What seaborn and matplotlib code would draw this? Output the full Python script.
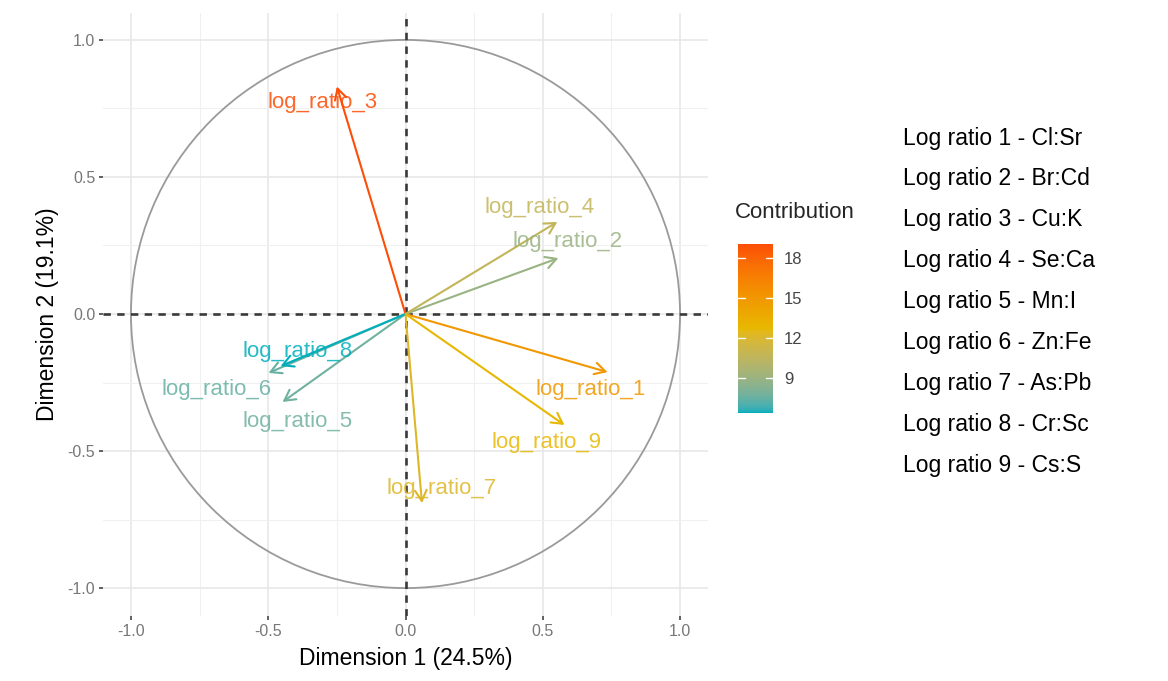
import numpy as np
import matplotlib
matplotlib.use("Agg")
import matplotlib.pyplot as plt
from matplotlib.patches import Circle
from matplotlib.colors import Normalize, ListedColormap, to_rgb
import matplotlib.cm as cm
import seaborn as sns

# Variable coordinates on the first two principal dimensions
variables = ["log_ratio_1", "log_ratio_2", "log_ratio_3", "log_ratio_4", "log_ratio_5",
             "log_ratio_6", "log_ratio_7", "log_ratio_8", "log_ratio_9"]
dim1 = [0.736, 0.557, -0.250, 0.553, -0.448, -0.499, 0.060, -0.455, 0.579]
dim2 = [-0.212, 0.204, 0.830, 0.336, -0.321, -0.215, -0.690, -0.190, -0.405]
contribution = [14.9, 9.0, 19.05, 10.7, 7.7, 7.5, 12.2, 6.4, 12.7]

# Key of what each log ratio stands for
ratio_keys = ["Log ratio 1 - Cl:Sr", "Log ratio 2 - Br:Cd", "Log ratio 3 - Cu:K",
              "Log ratio 4 - Se:Ca", "Log ratio 5 - Mn:I", "Log ratio 6 - Zn:Fe",
              "Log ratio 7 - As:Pb", "Log ratio 8 - Cr:Sc", "Log ratio 9 - Cs:S"]

dim1_label = "Dimension 1 (24.5%)"
dim2_label = "Dimension 2 (19.1%)"
cbar_ticks = [9, 12, 15, 18]
gradient_cols = ["#00AFBB", "#E7B800", "#FC4E07"]

# Where each arrow label sits (repelled from the arrow tips)
label_pos = {
    "log_ratio_1": (0.673, -0.277),
    "log_ratio_2": (0.590, 0.263),
    "log_ratio_3": (-0.302, 0.770),
    "log_ratio_4": (0.490, 0.390),
    "log_ratio_5": (-0.393, -0.394),
    "log_ratio_6": (-0.690, -0.277),
    "log_ratio_7": (0.131, -0.638),
    "log_ratio_8": (-0.393, -0.135),
    "log_ratio_9": (0.514, -0.467),
}


# --- gradient interpolated in CIE Lab space -------------------------------
_WHITE = np.array([0.95047, 1.0, 1.08883])
_M = np.array([[0.4124564, 0.3575761, 0.1804375],
               [0.2126729, 0.7151522, 0.0721750],
               [0.0193339, 0.1191920, 0.9503041]])


def _rgb_to_lab(rgb):
    c = np.asarray(rgb, float)
    lin = np.where(c <= 0.04045, c / 12.92, ((c + 0.055) / 1.055) ** 2.4)
    xyz = _M @ lin / _WHITE
    f = np.where(xyz > 216 / 24389, np.cbrt(xyz), (24389 / 27 * xyz + 16) / 116)
    return np.array([116 * f[1] - 16, 500 * (f[0] - f[1]), 200 * (f[1] - f[2])])


def _lab_to_rgb(lab):
    L, a, b = lab
    fy = (L + 16) / 116
    fx = fy + a / 500
    fz = fy - b / 200
    f = np.array([fx, fy, fz])
    xyz = np.where(f ** 3 > 216 / 24389, f ** 3, (116 * f - 16) / (24389 / 27)) * _WHITE
    lin = np.linalg.solve(_M, xyz)
    lin = np.clip(lin, 0, 1)
    c = np.where(lin <= 0.0031308, 12.92 * lin, 1.055 * lin ** (1 / 2.4) - 0.055)
    return np.clip(c, 0, 1)


def lab_gradient(colors, n=256):
    labs = [_rgb_to_lab(to_rgb(c)) for c in colors]
    pos = np.linspace(0, 1, len(colors))
    out = []
    for t in np.linspace(0, 1, n):
        i = min(np.searchsorted(pos, t, side="right") - 1, len(colors) - 2)
        u = (t - pos[i]) / (pos[i + 1] - pos[i])
        out.append(_lab_to_rgb(labs[i] * (1 - u) + labs[i + 1] * u))
    return ListedColormap(out)


sns.set_theme(style="whitegrid")
plt.rcParams["font.family"] = ["Liberation Sans", "DejaVu Sans"]

fig = plt.figure(figsize=(11.68, 6.81), dpi=100)
ax = fig.add_axes([103.5 / 1168, (681 - 615.5) / 681, 604 / 1168, 603 / 681])
ax.set_facecolor("white")

cmap = lab_gradient(gradient_cols)
norm = Normalize(vmin=min(contribution), vmax=max(contribution))

# grid
ax.set_xlim(-1.1, 1.1)
ax.set_ylim(-1.1, 1.1)
major = [-1.0, -0.5, 0.0, 0.5, 1.0]
ax.set_xticks(major)
ax.set_yticks(major)
ax.set_xticks([-0.75, -0.25, 0.25, 0.75], minor=True)
ax.set_yticks([-0.75, -0.25, 0.25, 0.75], minor=True)
ax.grid(which="major", color="#E6E6E6", lw=1.1)
ax.grid(which="minor", color="#F0F0F0", lw=0.8)
for s in ax.spines.values():
    s.set_visible(False)
ax.tick_params(axis="both", which="major", length=3, width=1.2, color="#444444",
               labelcolor="#777777", labelsize=11.5, pad=3, left=True, bottom=True)
ax.tick_params(axis="both", which="minor", length=0)
ax.set_xticklabels(["-1.0", "-0.5", "0.0", "0.5", "1.0"])
ax.set_yticklabels(["-1.0", "-0.5", "0.0", "0.5", "1.0"])

# correlation circle and axes through the origin
ax.add_patch(Circle((0, 0), 1.0, fill=False, ec="#9A9A9A", lw=1.3, zorder=2))
ax.axhline(0, color="#3A3A3A", lw=1.9, ls=(0, (2.8, 2.4)), zorder=3)
ax.axvline(0, color="#3A3A3A", lw=1.9, ls=(0, (2.8, 2.4)), zorder=3)

# arrows and labels
for name, x, y, c in zip(variables, dim1, dim2, contribution):
    col = cmap(norm(c))
    ax.annotate("", xy=(x, y), xytext=(0, 0),
                arrowprops=dict(arrowstyle="->,head_length=0.55,head_width=0.3",
                                color=col, lw=1.5, mutation_scale=14,
                                shrinkA=0, shrinkB=0), zorder=4)
    lx, ly = label_pos[name]
    ax.text(lx, ly, name, color=col, fontsize=16, ha="center", va="center",
            alpha=0.85, zorder=5)

ax.set_xlabel(dim1_label, fontsize=16.5, color="black", labelpad=6)
ax.set_ylabel(dim2_label, fontsize=16.5, color="black", labelpad=6)

# colour bar legend
cax = fig.add_axes([738 / 1168, (681 - 413) / 681, 35 / 1168, 169 / 681])
cb = fig.colorbar(cm.ScalarMappable(norm=norm, cmap=cmap), cax=cax, ticks=cbar_ticks)
cb.outline.set_visible(False)
cax.tick_params(length=0, labelsize=12, labelcolor="#444444", pad=8)
for t in cbar_ticks:
    cax.plot([0, 0.2], [t, t], color="white", lw=1, transform=cax.get_yaxis_transform())
    cax.plot([0.8, 1.0], [t, t], color="white", lw=1, transform=cax.get_yaxis_transform())
fig.text(735 / 1168, 1 - 213 / 681, "Contribution", fontsize=16, ha="left", va="center")

# ratio key
for i, k in enumerate(ratio_keys):
    fig.text(903 / 1168, 1 - (138 + 40.9 * i) / 681, k, fontsize=16.5,
             ha="left", va="center", color="black")

fig.savefig("out.png", dpi=100, facecolor="white")
